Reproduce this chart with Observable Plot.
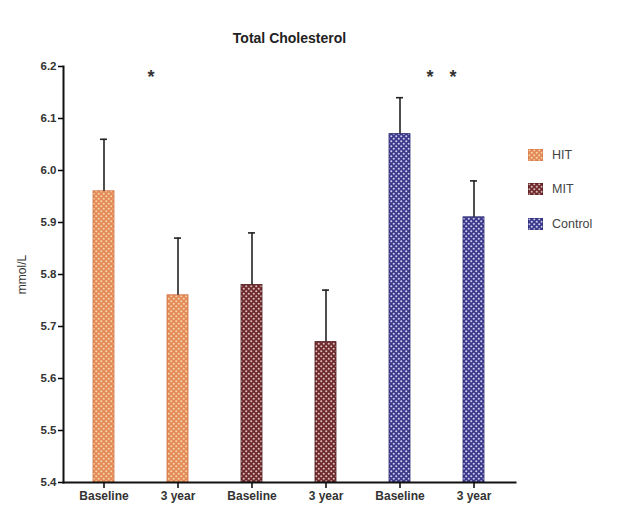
<!DOCTYPE html>
<html>
<head>
<meta charset="utf-8">
<script src="https://cdn.jsdelivr.net/npm/d3@7"></script>
<script src="https://cdn.jsdelivr.net/npm/@observablehq/plot@0.6"></script>
<style>
  html, body { margin: 0; padding: 0; background: #fff; }
  #wrap { position: relative; width: 632px; height: 506px; font-family: "Liberation Sans", Arial, sans-serif; }
  #legend { position: absolute; left: 528px; top: 146px; font-size: 12.5px; color: #444; }
  .item { display: flex; align-items: center; height: 17px; margin-bottom: 17.5px; }
  .item svg { margin-right: 9px; }
</style>
</head>
<body>
<div id="wrap"><div id="legend"></div></div>
<script>
const title = "Total Cholesterol";
const yLabel = "mmol/L";
const groups = ["HIT", "MIT", "Control"];
const timepoints = ["Baseline", "3 year", "Baseline", "3 year", "Baseline", "3 year"];
const barGroups = ["HIT", "HIT", "MIT", "MIT", "Control", "Control"];
const means = [5.96, 5.76, 5.78, 5.67, 6.07, 5.91];
const errTops = [6.06, 5.87, 5.88, 5.77, 6.14, 5.98];
const yTicks = [5.4, 5.5, 5.6, 5.7, 5.8, 5.9, 6.0, 6.1, 6.2];
// significance markers: bar index they sit after, horizontal offset px, y value
const starBars = [0, 4, 4];
const starOffsets = [47, 30, 53];
const starY = [6.18, 6.18, 6.18];

const baseColors = {HIT: "#e48a58", MIT: "#6e2a2c", Control: "#3c3a8a"};
const dotColors = {HIT: "#f6d3a8", MIT: "#dcbcbc", Control: "#cfcdf0"};
const strokeColors = {HIT: "#d07040", MIT: "#4e1a1c", Control: "#2a2870"};

const keys = timepoints.map((t, i) => i);
const data = keys.map(i => ({key: i, label: timepoints[i], group: barGroups[i], mean: means[i], err: errTops[i]}));
const starMarks = starBars.map((b, i) =>
  Plot.text([{key: b, y: starY[i]}], {x: "key", y: "y", dx: starOffsets[i], text: () => "*", fontSize: 18, fill: "#333", fontWeight: "bold"}));

function patternDefs(svgSel) {
  const defs = svgSel.append("defs");
  groups.forEach(g => {
    const p = defs.append("pattern").attr("id", "pat-" + g)
      .attr("patternUnits", "userSpaceOnUse").attr("width", 5).attr("height", 5);
    p.append("rect").attr("width", 5).attr("height", 5).attr("fill", baseColors[g]);
    p.append("circle").attr("cx", 1.25).attr("cy", 1.25).attr("r", 1.05).attr("fill", dotColors[g]);
    p.append("circle").attr("cx", 3.75).attr("cy", 3.75).attr("r", 1.05).attr("fill", dotColors[g]);
  });
}

const chart = Plot.plot({
  width: 632,
  height: 506,
  marginLeft: 63,
  marginRight: 117,
  marginTop: 66,
  marginBottom: 24,
  style: {fontFamily: "Liberation Sans, Arial, sans-serif", background: "white"},
  x: {domain: keys, paddingInner: 0.71, paddingOuter: 0.38},
  y: {domain: [5.4, 6.2]},
  color: {domain: groups, range: groups.map(g => `url(#pat-${g})`)},
  marks: [
    Plot.barY(data, {x: "key", y1: 5.4, y2: "mean", fill: "group"}),
    Plot.barY(data, {x: "key", y1: 5.4, y2: "mean", fill: "none", stroke: d => strokeColors[d.group], strokeWidth: 0.8}),
    Plot.ruleX(data, {x: "key", y1: "mean", y2: "err", stroke: "#222", strokeWidth: 1.6}),
    Plot.tickY(data, {x: "key", y: "err", stroke: "#222", strokeWidth: 1.6, inset: 7}),
    ...starMarks,
    Plot.axisY({ticks: yTicks, tickFormat: d3.format(".1f"), tickSize: 5, tickPadding: 2, fontSize: 11.5, fontWeight: "bold", fill: "#333", strokeWidth: 1.5,
      label: yLabel, labelAnchor: "center", labelArrow: "none", labelOffset: 46}),
    Plot.axisX({tickFormat: i => timepoints[i], tickSize: 6, tickPadding: 3, fontSize: 12, fontWeight: "bold", fill: "#333", strokeWidth: 1.5, label: null}),
    Plot.frame({anchor: "left", stroke: "#111", strokeWidth: 2}),
    Plot.frame({anchor: "bottom", stroke: "#111", strokeWidth: 2}),
    Plot.text([title], {frameAnchor: "top", dy: -33, fontSize: 14, fontWeight: "bold", fill: "#222"})
  ]
});

const svg = d3.select(chart);
patternDefs(svg);
svg.selectAll("[aria-label='y-axis label'] text, [aria-label='y-axis label']").attr("font-weight", "normal").attr("font-size", 12);
document.getElementById("wrap").prepend(chart);

const legend = d3.select("#legend");
groups.forEach(g => {
  const it = legend.append("div").attr("class", "item");
  const s = it.append("svg").attr("width", 15).attr("height", 12);
  s.append("rect").attr("width", 15).attr("height", 12).attr("fill", `url(#pat-${g})`).attr("stroke", strokeColors[g]).attr("stroke-width", 0.8);
  it.append("span").text(g);
});
</script>
</body>
</html>
